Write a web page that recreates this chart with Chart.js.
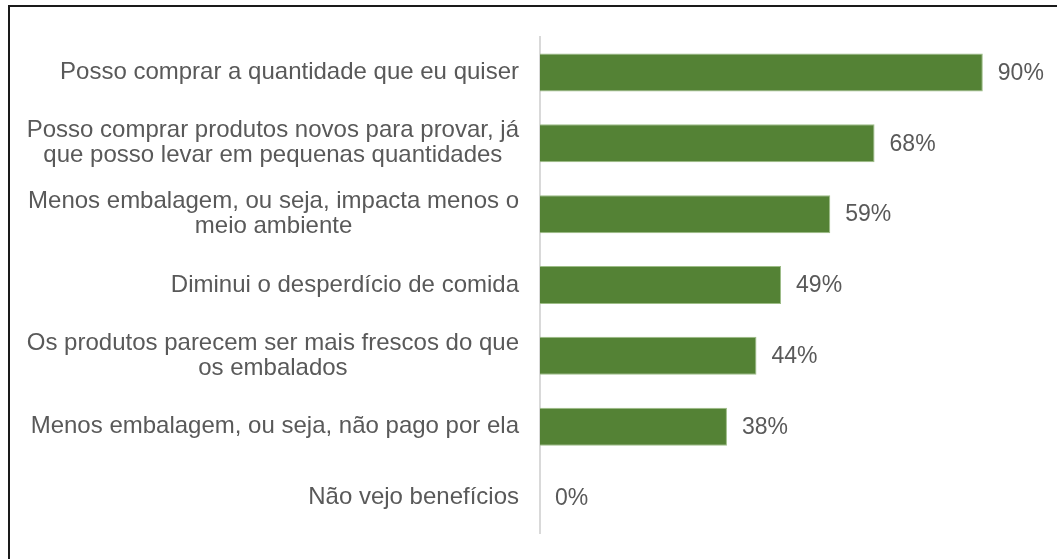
<!DOCTYPE html>
<html>
<head>
<meta charset="utf-8">
<script src="https://cdn.jsdelivr.net/npm/chart.js@4.4.1/dist/chart.umd.min.js"></script>
<style>
    html, body { margin: 0; padding: 0; background: #fff; }
    #wrap { position: relative; width: 1057px; height: 559px; overflow: hidden; }
    #frame {
        position: absolute; left: 8px; top: 5px; width: 1100px; height: 600px;
        border-left: 2px solid #1a1a1a; border-top: 2px solid #1a1a1a;
        pointer-events: none;
    }
</style>
</head>
<body>
<div id="wrap">
    <canvas id="chart" width="1057" height="559"></canvas>
    <div id="frame"></div>
</div>
<script>
const categories = [
    ['Posso comprar a quantidade que eu quiser'],
    ['Posso comprar produtos novos para provar, já', 'que posso levar em pequenas quantidades'],
    ['Menos embalagem, ou seja, impacta menos o', 'meio ambiente'],
    ['Diminui o desperdício de comida'],
    ['Os produtos parecem ser mais frescos do que', 'os embalados'],
    ['Menos embalagem, ou seja, não pago por ela'],
    ['Não vejo benefícios']
];
const values = [90, 68, 59, 49, 44, 38, 0];

const LABEL_FONT = '24px "Liberation Sans", Arial, sans-serif';
const VALUE_FONT = '23px "Liberation Sans", Arial, sans-serif';
const TEXT = '#595959';

// category labels: Excel centres wrapped lines inside a right-aligned block
const categoryLabels = {
    id: 'categoryLabels',
    afterDraw(chart) {
        const ctx = chart.ctx;
        const y = chart.scales.y;
        const right = y.right - 21;
        const lineH = 25;
        ctx.save();
        ctx.font = LABEL_FONT;
        ctx.fillStyle = TEXT;
        ctx.textAlign = 'center';
        ctx.textBaseline = 'middle';
        categories.forEach((lines, i) => {
            const cy = y.getPixelForTick(i);
            const w = Math.max(...lines.map(l => ctx.measureText(l).width));
            const cx = right - w / 2;
            const top = cy - (lines.length - 1) * lineH / 2;
            lines.forEach((l, k) => ctx.fillText(l, cx, top + k * lineH));
        });
        ctx.restore();
    }
};

const valueLabels = {
    id: 'valueLabels',
    afterDatasetsDraw(chart) {
        const ctx = chart.ctx;
        const meta = chart.getDatasetMeta(0);
        ctx.save();
        ctx.font = VALUE_FONT;
        ctx.fillStyle = TEXT;
        ctx.textAlign = 'left';
        ctx.textBaseline = 'middle';
        meta.data.forEach((bar, i) => {
            ctx.fillText(values[i] + '%', bar.x + 15, bar.y + 1);
        });
        ctx.restore();
    }
};

new Chart(document.getElementById('chart'), {
    type: 'bar',
    data: {
        labels: categories,
        datasets: [{
            data: values,
            backgroundColor: '#548235',
            borderColor: '#9dbd87',
            borderWidth: 1,
            borderSkipped: 'start',
            categoryPercentage: 1,
            barPercentage: 0.536
        }]
    },
    options: {
        indexAxis: 'y',
        responsive: false,
        animation: false,
        layout: { padding: { left: 540, top: 37, right: 25, bottom: 26 } },
        plugins: { legend: { display: false }, tooltip: { enabled: false } },
        scales: {
            x: { display: false, min: 0, max: 100 },
            y: {
                ticks: { display: false },
                grid: { display: false, drawTicks: false },
                border: { display: true, color: '#d9d9d9', width: 2 }
            }
        }
    },
    plugins: [categoryLabels, valueLabels]
});
</script>
</body>
</html>
